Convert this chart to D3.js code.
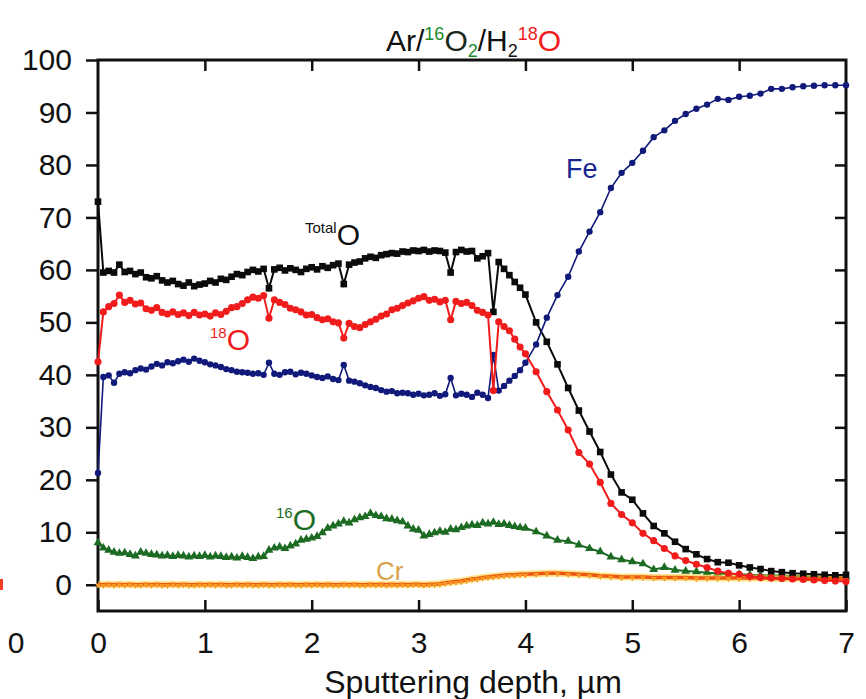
<!DOCTYPE html>
<html>
<head>
<meta charset="utf-8">
<script src="https://cdn.jsdelivr.net/npm/d3@7"></script>
<style>
  body { margin: 0; background: #fff; }
  svg { display: block; }
  text { font-family: "Liberation Sans", Arial, sans-serif; }
</style>
</head>
<body>
<script>
// depth in um: dense 0.05 steps up to 4, then 0.1 steps
var depth = [
  0, 0.05, 0.1, 0.15, 0.2, 0.25, 0.3, 0.35, 0.4, 0.45,
  0.5, 0.55, 0.6, 0.65, 0.7, 0.75, 0.8, 0.85, 0.9, 0.95,
  1.0, 1.05, 1.1, 1.15, 1.2, 1.25, 1.3, 1.35, 1.4, 1.45,
  1.5, 1.55, 1.6, 1.65, 1.7, 1.75, 1.8, 1.85, 1.9, 1.95,
  2.0, 2.05, 2.1, 2.15, 2.2, 2.25, 2.3, 2.35, 2.4, 2.45,
  2.5, 2.55, 2.6, 2.65, 2.7, 2.75, 2.8, 2.85, 2.9, 2.95,
  3.0, 3.05, 3.1, 3.15, 3.2, 3.25, 3.3, 3.35, 3.4, 3.45,
  3.5, 3.55, 3.6, 3.65, 3.7, 3.75, 3.8, 3.85, 3.9, 3.95,
  4.0, 4.1, 4.2, 4.3, 4.4, 4.5, 4.6, 4.7, 4.8, 4.9,
  5.0, 5.1, 5.2, 5.3, 5.4, 5.5, 5.6, 5.7, 5.8, 5.9,
  6.0, 6.1, 6.2, 6.3, 6.4, 6.5, 6.6, 6.7, 6.8, 6.9,
  7.0
];

var total_o = [
  73, 59.5, 59.8, 59.5, 61, 59.6, 59.8, 59.2, 59.5, 58.6,
  58.4, 58.8, 58, 57.6, 57.9, 57.3, 57.0, 57.6, 56.9, 57.2,
  57.4, 57.9, 57.6, 58.3, 58.1, 58.7, 59.2, 59.0, 59.6, 60.0,
  59.7, 60.2, 56.5, 60.1, 60.4, 59.9, 60.3, 60.0, 59.6, 60.2,
  60.5, 60.1, 60.7, 60.4, 60.9, 61.2, 57.3, 61.0, 61.4, 61.6,
  62.2, 62.5, 62.3, 62.8, 63.0, 63.2, 63.1, 63.5, 63.4, 63.7,
  63.6, 63.8, 63.5, 63.7, 63.6, 63.3, 59.5, 63.4, 63.8, 63.5,
  63.6, 62.2, 62.6, 63.2, 52, 61.5, 60.2, 59.0, 57.7, 56.6,
  55.3, 50.0, 46.3, 42.0, 37.5, 33.2, 29.2, 25.3, 21.0, 17.6,
  16.2, 13.6, 11.2, 9.8, 8.2, 6.8, 5.8, 4.9, 4.3, 4.2,
  3.7, 3.3, 3.0, 2.6, 2.4, 2.2, 2.1, 2.0, 1.9, 1.8,
  1.9
];

var o18 = [
  42.5, 52.0, 53.0, 53.6, 55.2, 53.8, 54.2, 53.5, 53.7, 52.6,
  52.3, 52.8, 51.9, 51.6, 52.0, 51.5, 51.8, 51.3, 51.9, 51.4,
  51.6, 51.2, 51.8, 51.5, 52.1, 52.8, 53.0, 53.6, 54.3, 54.8,
  54.6, 55.1, 50.8, 54.3, 53.8, 53.4, 52.7, 52.4, 52.0, 51.4,
  51.5, 50.9, 50.5, 50.7, 50.1, 49.9, 47.0, 49.8, 49.2, 49.0,
  49.6, 50.1, 50.6, 51.2, 51.6, 52.4, 52.7, 53.2, 53.7, 54.1,
  54.6, 54.9, 54.2, 54.4, 53.9, 54.2, 50.5, 54.0, 53.6, 53.8,
  53.2, 52.3, 51.9, 51.4, 37.0, 50.1, 49.2, 48.4, 46.8, 45.3,
  44.0, 40.6, 36.8, 33.3, 29.5, 25.2, 23.0, 19.5, 15.5, 13.4,
  11.8, 9.8, 8.4, 6.9, 5.5, 4.6, 3.9, 3.3, 2.6, 2.2,
  2.0, 1.6, 1.4, 1.3, 1.2, 1.1, 1.0, 0.9, 0.8, 0.7,
  0.6
];

var fe = [
  21.3, 39.6, 39.9, 38.5, 40.2, 40.5, 40.3, 40.9, 41.2, 41.0,
  41.6, 42.1, 41.8, 42.4, 42.2, 42.6, 42.9, 42.5, 43.1, 42.7,
  42.4, 42.0, 41.8, 41.5, 41.1, 40.9, 40.6, 40.5, 40.4, 40.2,
  40.3, 40.0, 42.3, 40.2, 40.0, 40.5, 40.6, 40.1, 40.4, 40.2,
  39.9, 39.6, 39.4, 39.7, 39.2, 39.0, 41.9, 38.9, 38.7, 38.4,
  38.0, 37.7, 37.5, 37.1, 36.8, 36.9, 36.5, 36.6, 36.5, 36.2,
  36.4, 36.1, 36.2, 36.5, 36.0, 36.3, 39.4, 36.1, 36.4, 36.2,
  35.8, 36.6, 36.2, 35.6, 43.8, 37.0, 37.9, 38.9, 39.8, 40.9,
  42.3, 45.8, 50.9, 55.2, 58.7, 63.5, 67.3, 71.0, 75.6, 78.5,
  80.4, 82.7, 85.3, 86.6, 88.4, 89.7, 90.7, 91.5, 92.6, 92.4,
  93.0, 93.2, 93.6, 94.5, 94.5, 94.8, 95.0, 95.1, 95.2, 95.2,
  95.2
];

var o16 = [
  8.0, 7.0, 6.6, 6.2, 6.0, 6.1, 5.8, 5.5, 6.2, 6.0,
  5.8, 5.7, 5.5, 5.6, 5.4, 5.6, 5.5, 5.3, 5.5, 5.4,
  5.6, 5.3, 5.5, 5.4, 5.2, 5.3, 5.1, 5.4, 5.2, 5.0,
  5.3, 5.4, 6.6, 7.0, 7.2, 6.9, 7.4, 7.8, 8.5, 8.7,
  8.9, 9.2, 9.9, 10.8, 11.2, 11.6, 12.1, 11.8, 12.4, 12.8,
  13.0, 13.6, 13.2, 13.0, 12.6, 12.5, 12.2, 12.0, 11.2, 10.6,
  10.4, 9.3, 9.6, 9.9, 10.2, 10.0, 10.6, 10.5, 10.9, 11.2,
  11.4, 11.3, 11.8, 11.6, 11.9, 11.5, 11.6, 11.3, 11.1, 10.9,
  10.8, 10.1, 9.3, 8.5, 8.3, 7.6, 6.9, 6.3, 5.3, 4.8,
  4.4, 4.0, 2.9, 3.3, 2.8, 2.6, 2.5, 2.3, 2.2, 2.0,
  2.0, 1.9, 1.8, 1.8, 1.7, 1.7, 1.6, 1.6, 1.5, 1.5,
  1.5
];

var cr = [
  0.1, 0.0, 0.1, 0.0, 0.1, 0.0, 0.1, 0.0, 0.0, 0.1,
  0.0, 0.1, 0.0, 0.0, 0.1, 0.0, 0.1, 0.0, 0.0, 0.1,
  0.0, 0.1, 0.0, 0.1, 0.0, 0.0, 0.1, 0.0, 0.1, 0.0,
  0.0, 0.1, 0.0, 0.0, 0.1, 0.0, 0.1, 0.0, 0.0, 0.1,
  0.0, 0.1, 0.0, 0.1, 0.0, 0.0, 0.1, 0.0, 0.1, 0.0,
  0.0, 0.1, 0.0, 0.1, 0.0, 0.1, 0.0, 0.1, 0.0, 0.1,
  0.1, 0.0, 0.1, 0.1, 0.2, 0.4, 0.5, 0.6, 0.7, 0.9,
  1.1, 1.2, 1.4, 1.5, 1.6, 1.7, 1.8, 1.9, 1.9, 2.0,
  2.0, 2.1, 2.2, 2.2, 2.1, 2.0, 1.9, 1.7, 1.6, 1.5,
  1.5, 1.5, 1.4, 1.4, 1.4, 1.4, 1.3, 1.3, 1.3, 1.3,
  1.3, 1.3, 1.3, 1.2, 1.2, 1.2, 1.2, 1.2, 1.2, 1.2,
  1.2
];

var x_ticks = [0, 1, 2, 3, 4, 5, 6, 7];
var y_ticks = [0, 10, 20, 30, 40, 50, 60, 70, 80, 90, 100];

var w = 866, h = 699;
var plot_left = 98, plot_right = 846, plot_top = 60, plot_bottom = 611;
var tick_font_size = 30;

var svg = d3.select("body").append("svg").attr("width", w).attr("height", h);

var x = d3.scaleLinear().domain([0, 7]).range([plot_left, plot_right]);
var y = d3.scaleLinear().domain([-5, 100]).range([plot_bottom, plot_top]);

// axes
var style_axis = function(g){
  g.select(".domain").remove();
  g.selectAll(".tick line").attr("stroke", "#111").attr("stroke-width", 2.5);
  g.selectAll(".tick text").attr("fill", "#111").attr("font-size", tick_font_size)
    .attr("font-family", "'Liberation Sans', Arial, sans-serif");
}

svg.append("g").attr("transform", "translate(" + plot_left + ",0)")
  .call(d3.axisLeft(y).tickValues(y_ticks).tickSize(12).tickPadding(14).tickFormat(d3.format("d")))
  .call(style_axis);

svg.append("g").attr("transform", "translate(" + plot_right + ",0)")
  .call(d3.axisRight(y).tickValues(y_ticks.slice(1, 10)).tickSize(-11).tickFormat(""))
  .call(style_axis);

svg.append("g").attr("transform", "translate(0," + plot_bottom + ")")
  .call(d3.axisBottom(x).tickValues(x_ticks).tickSize(-11).tickPadding(21).tickFormat(d3.format("d")))
  .call(style_axis);

svg.append("g").attr("transform", "translate(0," + plot_top + ")")
  .call(d3.axisTop(x).tickValues(x_ticks.slice(1, 7)).tickSize(-11).tickFormat(""))
  .call(style_axis);

svg.append("rect")
  .attr("x", plot_left).attr("y", plot_top)
  .attr("width", plot_right - plot_left).attr("height", plot_bottom - plot_top)
  .attr("fill", "none").attr("stroke", "#111").attr("stroke-width", 3);

// series
var line = d3.line().x(function(d){ return x(d[0]); }).y(function(d){ return y(d[1]); });

var draw_series = function(values, color, shape, size, line_width){
  var pts = depth.map(function(d, i){ return [d, values[i]]; });
  svg.append("path").datum(pts).attr("d", line)
    .attr("fill", "none").attr("stroke", color).attr("stroke-width", line_width);
  svg.append("g").selectAll("path").data(pts).join("path")
    .attr("transform", function(d){ return "translate(" + x(d[0]) + "," + y(d[1]) + ")"; })
    .attr("d", d3.symbol().type(shape).size(size))
    .attr("fill", color);
}

draw_series(o16, "#1c6b22", d3.symbolTriangle, 34, 2);

// Cr: orange line with a yellow glow
var cr_pts = depth.map(function(d, i){ return [d, cr[i]]; });
svg.append("path").datum(cr_pts).attr("d", line)
  .attr("fill", "none").attr("stroke", "#ffd23a").attr("stroke-width", 7).attr("opacity", 0.6);
svg.append("path").datum(cr_pts).attr("d", line)
  .attr("fill", "none").attr("stroke", "#ee5512").attr("stroke-width", 3.5);
svg.append("g").selectAll("path").data(cr_pts).join("path")
  .attr("transform", function(d){ return "translate(" + x(d[0]) + "," + (y(d[1]) + 1) + ") rotate(180)"; })
  .attr("d", d3.symbol().type(d3.symbolTriangle).size(14))
  .attr("fill", "#f59a23");

draw_series(total_o, "#0b0b0b", d3.symbolSquare, 44, 2);
draw_series(fe, "#111a7a", d3.symbolCircle, 32, 1.6);
draw_series(o18, "#f01c1c", d3.symbolCircle, 40, 2);

// labels
var place_label = function(parts, x0, y0){
  var t = svg.append("text").attr("x", x0).attr("y", y0);
  parts.forEach(function(p){
    t.append("tspan").attr("font-size", p.size).attr("fill", p.color)
      .attr("dy", p.dy || 0).text(p.text);
  });
}

place_label([
  {text: "Ar/", size: 30, color: "#111"},
  {text: "16", size: 18, color: "#1c8a2a", dy: -11},
  {text: "O", size: 30, color: "#1a2a1a", dy: 11},
  {text: "2", size: 18, color: "#1c8a2a", dy: 6},
  {text: "/H", size: 30, color: "#111", dy: -6},
  {text: "2", size: 18, color: "#111", dy: 6},
  {text: "18", size: 18, color: "#f01c1c", dy: -17},
  {text: "O", size: 30, color: "#f01c1c", dy: 11}
], 386, 51);

place_label([
  {text: "Total", size: 15, color: "#111", dy: -12},
  {text: "O", size: 30, color: "#111", dy: 12}
], 305, 245);

place_label([
  {text: "18", size: 15, color: "#f01c1c", dy: -12},
  {text: "O", size: 30, color: "#f01c1c", dy: 12}
], 210, 350);

place_label([
  {text: "16", size: 15, color: "#1c6b22", dy: -12},
  {text: "O", size: 30, color: "#1c6b22", dy: 12}
], 276, 530);

place_label([{text: "Fe", size: 27, color: "#1a2590"}], 566, 178);
place_label([{text: "Cr", size: 26, color: "#d9a24a"}], 376, 580);

svg.append("text").attr("x", (plot_left + plot_right) / 2 + 1).attr("y", 693)
  .attr("text-anchor", "middle").attr("font-size", 32).attr("fill", "#111")
  .text("Sputtering depth, \u00b5m");

// edge of the neighbouring panel
svg.append("text").attr("x", 16).attr("y", 653).attr("text-anchor", "middle")
  .attr("font-size", tick_font_size).attr("fill", "#111").text("0");
svg.append("rect").attr("x", 0).attr("y", 579).attr("width", 3).attr("height", 11).attr("fill", "#f04020");
</script>
</body>
</html>
